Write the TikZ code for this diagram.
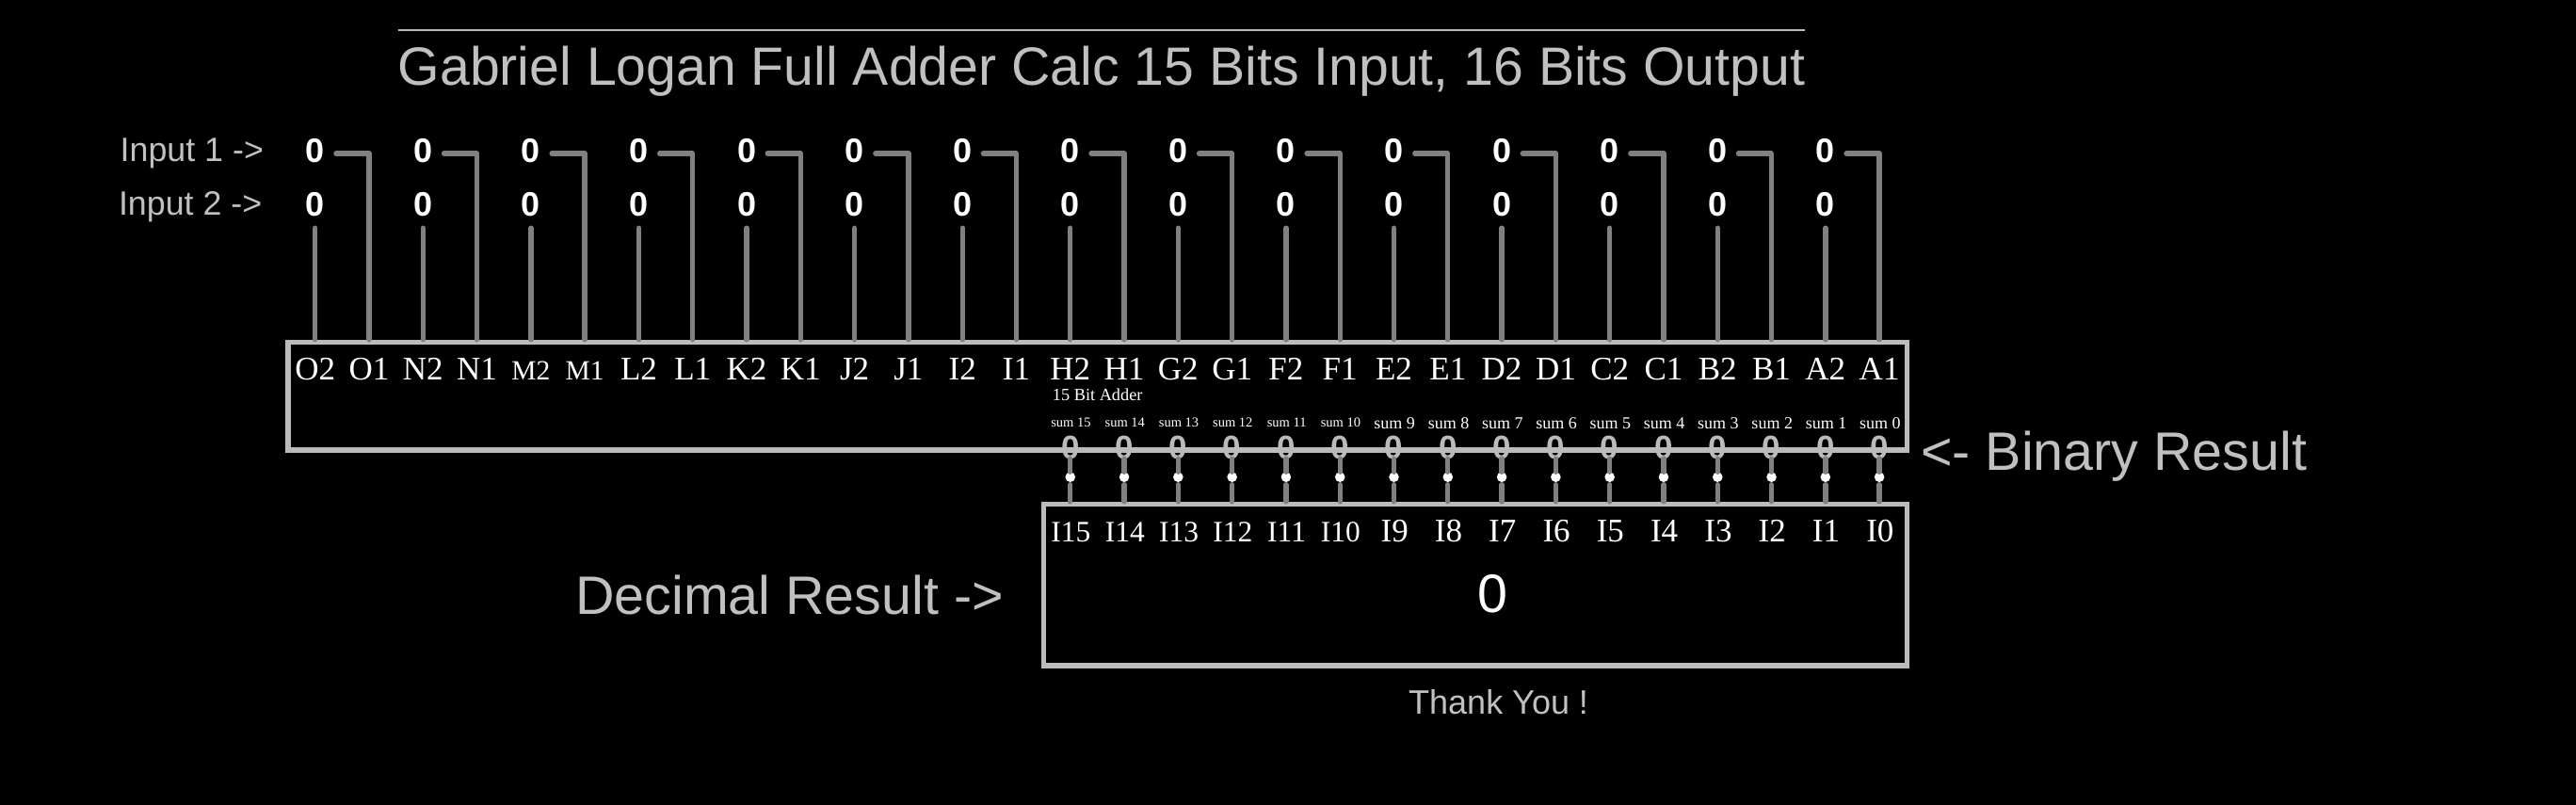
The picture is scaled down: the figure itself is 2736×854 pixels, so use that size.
\documentclass[tikz,border=0pt]{standalone}
\usepackage{fontspec}
\setmainfont{Liberation Serif}
\setsansfont{Liberation Sans}
\begin{document}
\begin{tikzpicture}[line join=round, line cap=round, x=1pt, y=-1pt,
    boxline/.style={draw=boxgray, line width=5.33pt, line cap=butt, line join=miter, rectangle, inner sep=0pt, outer sep=0pt},
    wire/.style={draw=wiregray, line width=5.33pt, shorten >=2.5pt},
    caption/.style={text=capgray, font=\sffamily\fontsize{#1}{#1}\selectfont, inner sep=0pt, anchor=base west},
    bitval/.style={text=white, font=\sffamily\bfseries\fontsize{36}{36}\selectfont, anchor=base, inner xsep=12pt, inner ysep=13pt, text height=18pt, text depth=0pt},
    pinlbl/.style={text=white, font=\fontsize{#1}{#1}\selectfont, inner sep=0pt, anchor=base},
    sumval/.style={text=boxgray, font=\sffamily\bfseries\fontsize{35}{35}\selectfont, anchor=base, inner sep=0pt, text depth=0pt},
    dotnode/.style={circle, fill=white, inner sep=0pt, minimum size=10.6pt}]
    \definecolor{boxgray}{HTML}{BBBBBB}
    \definecolor{wiregray}{HTML}{808080}
    \definecolor{capgray}{HTML}{C0C0C0}
    \def \pinx{334.7}
    \def \pinw{57.29}
    \useasboundingbox (0,0) rectangle (2736,854);
    \fill[black] (-5,-5) rectangle (2741,859);
    \node[caption=57.2, anchor=base, text height=58pt] (title) at (1170,90) {Gabriel Logan Full Adder Calc 15 Bits Input, 16 Bits Output};
    \draw[draw=boxgray, line width=2pt, line cap=butt] (title.north west) -- (title.north east);
    \node[caption=35.8] (capa) at (127.5,171.7) {Input 1 ->};
    \node[caption=35.8] (capb) at (125.8,228) {Input 2 ->};
    \node[boxline, minimum width=1719.3pt, minimum height=114.7pt] (adder) at (1165.65,420.65) {};
    \node[boxline, minimum width=917pt, minimum height=171.7pt] (decimal) at (1566.8,621.15) {};
    % pins of the adder
    \foreach \lbl [count=\i from 0] in {O2,O1,N2,N1,M2,M1,L2,L1,K2,K1,J2,J1,I2,I1,H2,H1,G2,G1,F2,F1,E2,E1,D2,D1,C2,C1,B2,B1,A2,A1} {
        \pgfmathsetmacro{\fpin}{or(\i==4,\i==5) ? 29.5 : 35}
        \node[pinlbl=\fpin] (pin\i) at (\pinx+\pinw*\i,403) {\lbl};
    }
    % the two input rows
    \foreach \j in {0,...,14} {
        \pgfmathtruncatemacro{\pa}{2*\j}
        \pgfmathtruncatemacro{\pb}{2*\j+1}
        \node[bitval] (ina\j) at (\pinx+\pinw*\pa,172) {0};
        \node[bitval] (inb\j) at (\pinx+\pinw*\pa,229) {0};
        \draw[wire] (ina\j.east) -| (pin\pb |- adder.north);
        \draw[wire] (inb\j.south) -- (pin\pa |- adder.north);
    }
    \node[pinlbl=18.3] (addername) at (1165.7,425) {15 Bit Adder};
    % sums and decimal inputs
    \foreach \k in {0,...,15} {
        \pgfmathtruncatemacro{\i}{29-\k}
        \pgfmathsetmacro{\fsum}{\k>9 ? 14.5 : 18}
        \pgfmathsetmacro{\ysum}{\k>9 ? 453.3 : 455}
        \pgfmathsetmacro{\fdec}{\k>9 ? 31.5 : 35}
        \node[pinlbl=\fsum] (sumlbl\k) at (\pinx+\pinw*\i+0.7,\ysum) {sum \k};
        \node[pinlbl=\fdec] (dec\k) at (\pinx+\pinw*\i+0.7,575) {I\k};
        \node[sumval] (sum\k) at (\pinx+\pinw*\i,487) {0};
        \node[dotnode] (dot\k) at (\pinx+\pinw*\i,506.7) {};
        \draw[wire, shorten <=2.5pt] (sum\k.south) -- (dot\k) -- (dot\k |- decimal.north);
    }
    \node[caption=57.4] (binres) at (2040,499.3) {<- Binary Result};
    \node[caption=57.4] (decres) at (611,652.7) {Decimal Result ->};
    \node[pinlbl=57.4, font=\sffamily\fontsize{57.4}{57.4}\selectfont] (decval) at (1585,650) {0};
    \node[caption=36] (thanks) at (1496,758) {Thank You !};
\end{tikzpicture}
\end{document}
